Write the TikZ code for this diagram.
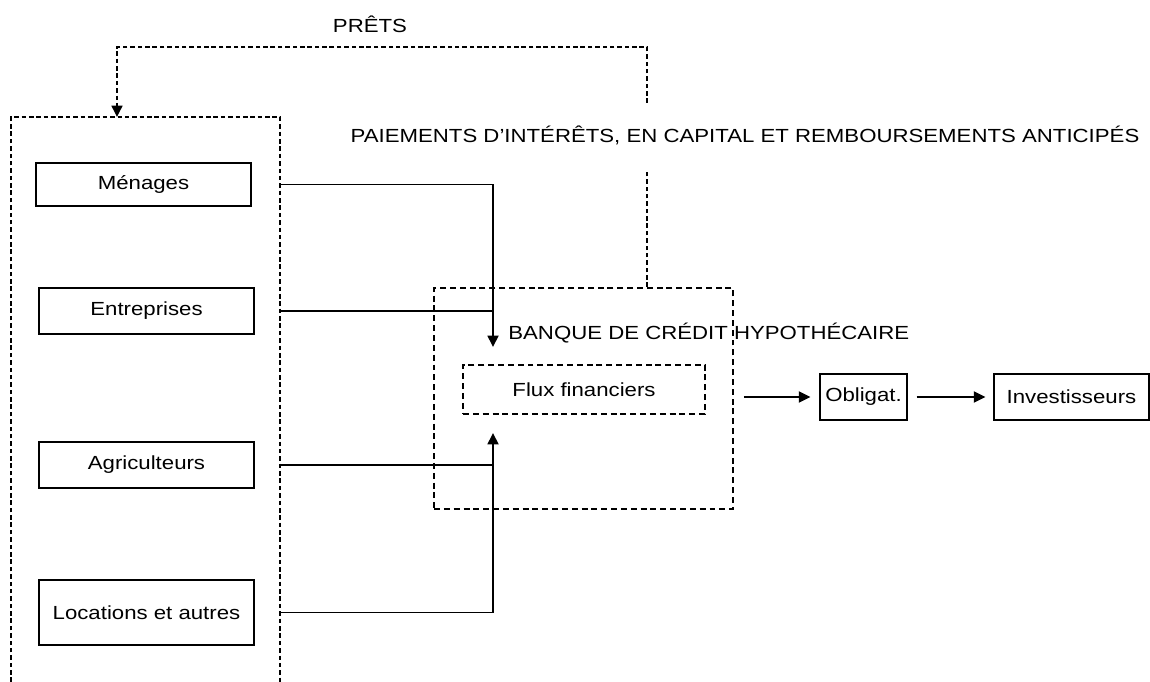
\documentclass[tikz,border=0pt]{standalone}
\usepackage{fontspec}
\setmainfont{Liberation Sans}[FakeStretch=1.17]
\usetikzlibrary{arrows.meta}

\begin{document}
\begin{tikzpicture}[x=0.02cm,y=-0.02cm,
  every node/.style={font=\fontsize{10.8}{13}\selectfont},
  sector/.style={draw,line width=0.7pt,inner sep=0pt,
    minimum width=4.3cm,minimum height=0.92cm},
  bankbox/.style={draw,line width=1.15pt,dash pattern=on 3.4pt off 2.2pt,
    inner sep=0pt,minimum width=5.98cm,minimum height=4.42cm},
  fluxbox/.style={draw,line width=1.15pt,dash pattern=on 3.4pt off 2.2pt,
    inner sep=0pt,minimum width=4.84cm,minimum height=0.98cm},
  loopline/.style={line width=1.15pt,dash pattern=on 2.6pt off 1.6pt},
  feed/.style={line width=0.6pt},
  flow/.style={line width=1.2pt,-{Triangle[length=6.5pt,width=6.2pt]}}]
  \useasboundingbox (0,0) rectangle (1150,682);

  % borrowers, left column
  \node[sector,minimum height=0.86cm] (menages) at (143.5,184.5) {Ménages};
  \node[sector] (entreprises) at (146.5,311) {Entreprises};
  \node[sector] (agriculteurs) at (146.5,465) {Agriculteurs};
  \node[sector,minimum height=1.3cm] (locations) at (146.5,612.5) {Locations et autres};

  % dashed frame round the borrowers (runs off the page)
  \draw[loopline] (11,682) -- (11,117) -- (280,117) -- (280,682);
  \coordinate (edge) at (280,117);

  % the bank and what comes out of it
  \node[bankbox] (bank) at (583.5,398.5) {};
  \node[anchor=west,inner sep=0pt] (banklabel) at (508,333) {BANQUE DE CRÉDIT HYPOTHÉCAIRE};
  \node[fluxbox] (flux) at (584,389.5) {Flux financiers};
  \node[sector,minimum width=1.74cm] (obligat) at (863.5,397) {Obligat.};
  \node[sector,minimum width=3.1cm] (invest) at (1071.5,397) {Investisseurs};

  % payments into the bank
  \coordinate (downtip) at (493,347);
  \coordinate (uptip) at (493,433);
  \draw[feed] (menages.east -| edge) -- (menages.east -| downtip);
  \draw[feed] (entreprises.east -| edge) -- (entreprises.east -| downtip);
  \draw[feed] (agriculteurs.east -| edge) -- (agriculteurs.east -| uptip);
  \draw[feed] (locations.east -| edge) -- (locations.east -| uptip);
  \draw[flow] (menages.east -| downtip) -- (downtip);
  \draw[flow] (locations.east -| uptip) -- (uptip);

  \draw[flow,shorten <=0.2cm,shorten >=0.18cm] (bank.east |- obligat.west) -- (obligat.west);
  \draw[flow,shorten <=0.18cm,shorten >=0.16cm] (obligat) -- (invest);

  % loans back to the borrowers
  \node (prets) at (370,24) {PRÊTS};
  \node (paiements) at (745,135) {PAIEMENTS D’INTÉRÊTS, EN CAPITAL ET REMBOURSEMENTS ANTICIPÉS};
  \coordinate (pay) at (647,47);
  \draw[loopline] (bank.north -| pay) -- (647,172);
  \draw[loopline,-{Triangle[length=6.5pt,width=6.2pt]}] (647,103) -- (pay) -- (117,47) -- (117,117);
\end{tikzpicture}
\end{document}
